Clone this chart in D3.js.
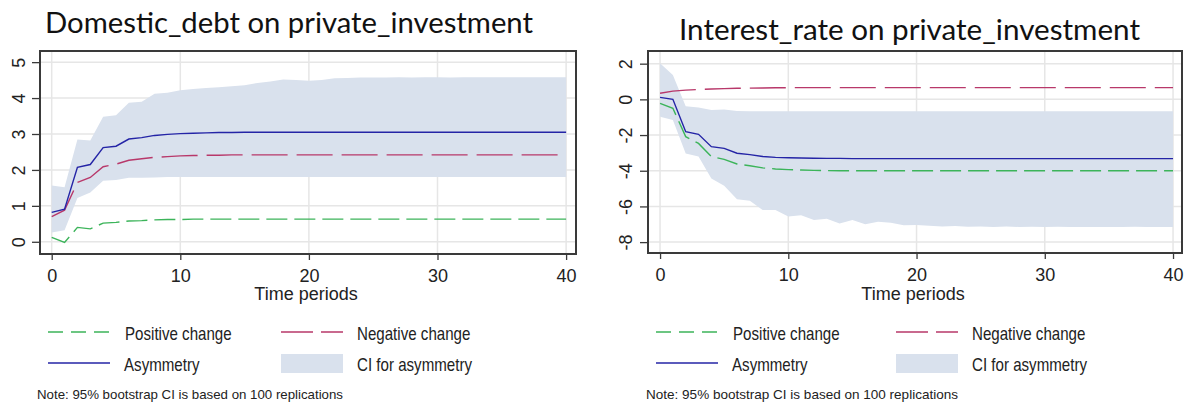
<!DOCTYPE html>
<html>
<head>
<meta charset="utf-8">
<script src="https://cdn.jsdelivr.net/npm/d3@7"></script>
<style>
  body { margin: 0; background: #fff; }
  svg { display: block; }
  .tick-label { font-family: "Liberation Sans", Arial, sans-serif; font-size: 18px; fill: #222; }
  .legend-label { font-family: "Liberation Sans", Arial, sans-serif; font-size: 18px; fill: #222; }
  .note { font-family: "Liberation Sans", Arial, sans-serif; font-size: 13px; fill: #222; }
  .title { font-family: Lato, "Open Sans", sans-serif; font-size: 28px; fill: #111; }
</style>
</head>
<body>
<svg id="chart" width="1184" height="403"></svg>
<script>
// time periods 0..40
var periods = d3.range(0, 41);

// Domestic_debt on private_investment
var ddAsym = [0.82, 0.91, 2.07, 2.15, 2.62, 2.66, 2.86, 2.90, 2.96, 2.99, 3.01, 3.02, 3.03, 3.04, 3.04, 3.05, 3.05,
  3.05, 3.05, 3.05, 3.05, 3.05, 3.05, 3.05, 3.05, 3.05, 3.05, 3.05, 3.05, 3.05, 3.05, 3.05, 3.05, 3.05, 3.05, 3.05,
  3.05, 3.05, 3.05, 3.05, 3.05];
var ddNeg = [0.70, 0.88, 1.65, 1.79, 2.09, 2.16, 2.27, 2.31, 2.35, 2.37, 2.39, 2.40, 2.41, 2.41, 2.42, 2.42, 2.42,
  2.42, 2.42, 2.42, 2.42, 2.42, 2.42, 2.42, 2.42, 2.42, 2.42, 2.42, 2.42, 2.42, 2.42, 2.42, 2.42, 2.42, 2.42, 2.42,
  2.42, 2.42, 2.42, 2.42, 2.42];
var ddPos = [0.12, -0.02, 0.40, 0.36, 0.52, 0.54, 0.58, 0.59, 0.61, 0.62, 0.62, 0.63, 0.63, 0.63, 0.63, 0.63, 0.63,
  0.63, 0.63, 0.63, 0.63, 0.63, 0.63, 0.63, 0.63, 0.63, 0.63, 0.63, 0.63, 0.63, 0.63, 0.63, 0.63, 0.63, 0.63, 0.63,
  0.63, 0.63, 0.63, 0.63, 0.63];
var ddHi = [1.57, 1.52, 2.85, 2.82, 3.48, 3.52, 3.87, 3.90, 4.12, 4.15, 4.22, 4.25, 4.28, 4.30, 4.33, 4.36, 4.42,
  4.46, 4.52, 4.50, 4.48, 4.50, 4.55, 4.56, 4.57, 4.57, 4.57, 4.58, 4.57, 4.58, 4.58, 4.57, 4.58, 4.58, 4.58, 4.58,
  4.58, 4.58, 4.58, 4.58, 4.58];
var ddLo = [0.26, 0.32, 1.22, 1.37, 1.70, 1.72, 1.78, 1.78, 1.79, 1.80, 1.80, 1.80, 1.80, 1.80, 1.80, 1.80, 1.80,
  1.80, 1.80, 1.80, 1.80, 1.80, 1.80, 1.80, 1.80, 1.80, 1.80, 1.80, 1.80, 1.80, 1.80, 1.80, 1.80, 1.80, 1.80, 1.80,
  1.80, 1.80, 1.80, 1.80, 1.80];

// Interest_rate on private_investment
var irAsym = [0.11, 0.00, -1.81, -1.96, -2.65, -2.75, -3.02, -3.10, -3.20, -3.25, -3.27, -3.29, -3.30, -3.31, -3.31,
  -3.32, -3.32, -3.32, -3.32, -3.32, -3.32, -3.32, -3.32, -3.32, -3.32, -3.32, -3.32, -3.32, -3.32, -3.32, -3.32,
  -3.32, -3.32, -3.32, -3.32, -3.32, -3.32, -3.32, -3.32, -3.32, -3.32];
var irNeg = [0.34, 0.46, 0.52, 0.55, 0.58, 0.60, 0.62, 0.63, 0.64, 0.65, 0.65, 0.66, 0.66, 0.66, 0.66, 0.66, 0.66,
  0.66, 0.66, 0.66, 0.66, 0.66, 0.66, 0.66, 0.66, 0.66, 0.66, 0.66, 0.66, 0.66, 0.66, 0.66, 0.66, 0.66, 0.66, 0.66,
  0.66, 0.66, 0.66, 0.66, 0.66];
var irPos = [-0.22, -0.50, -2.09, -2.47, -3.21, -3.36, -3.62, -3.72, -3.84, -3.90, -3.94, -3.96, -3.98, -3.99, -4.00,
  -4.00, -4.00, -4.00, -4.00, -4.00, -4.00, -4.00, -4.00, -4.00, -4.00, -4.00, -4.00, -4.00, -4.00, -4.00, -4.00,
  -4.00, -4.00, -4.00, -4.00, -4.00, -4.00, -4.00, -4.00, -4.00, -4.00];
var irHi = [2.02, 1.36, -0.38, -0.45, -0.60, -0.57, -0.65, -0.66, -0.67, -0.67, -0.67, -0.67, -0.67, -0.67, -0.67,
  -0.67, -0.67, -0.67, -0.67, -0.67, -0.67, -0.67, -0.67, -0.67, -0.67, -0.67, -0.67, -0.67, -0.67, -0.67, -0.67,
  -0.67, -0.67, -0.67, -0.67, -0.67, -0.67, -0.67, -0.67, -0.67, -0.67];
var irLo = [-0.97, -1.16, -3.03, -3.20, -4.43, -4.84, -5.60, -5.68, -6.20, -6.20, -6.57, -6.50, -6.76, -6.69, -6.95,
  -6.76, -7.00, -6.86, -6.92, -7.06, -7.04, -7.08, -7.12, -7.10, -7.14, -7.12, -7.15, -7.13, -7.15, -7.14, -7.15,
  -7.14, -7.15, -7.15, -7.15, -7.15, -7.15, -7.14, -7.15, -7.15, -7.15];

var xTicks = [0, 10, 20, 30, 40];
var ddTicks = [0, 1, 2, 3, 4, 5];
var irTicks = [2, 0, -2, -4, -6, -8];

var legendLabels = ["Positive change", "Negative change", "Asymmetry", "CI for asymmetry"];
var noteText = "Note: 95% bootstrap CI is based on 100 replications";

var colors = { pos: "#3cb45a", neg: "#b8386a", asym: "#2424a6", ci: "#d9e1ed" };

var svg = d3.select("#chart");

function fitText(sel, w) {
  sel.attr("textLength", w).attr("lengthAdjust", "spacingAndGlyphs");
}

// plain hyphen for negatives, as in the original
function plainNum(d) { return String(d); }

function drawPanel(cfg) {
  var g = svg.append("g");

  var x = d3.scaleLinear().domain(cfg.xDomain).range([cfg.frame[0], cfg.frame[1]]);
  var y = d3.scaleLinear().domain(cfg.yDomain).range([cfg.frame[3], cfg.frame[2]]);

  // title
  g.append("text").attr("class", "title")
    .attr("x", cfg.titleX).attr("y", cfg.titleY)
    .text(cfg.title)
    .call(fitText, cfg.titleW);

  // gridlines
  g.selectAll(".hgrid").data(cfg.yTicks).enter().append("line")
    .attr("x1", cfg.frame[0]).attr("x2", cfg.frame[1])
    .attr("y1", function (d) { return y(d); }).attr("y2", function (d) { return y(d); })
    .attr("stroke", "#e6e6e6").attr("stroke-width", 1.5);
  g.selectAll(".vgrid").data(xTicks).enter().append("line")
    .attr("x1", function (d) { return x(d); }).attr("x2", function (d) { return x(d); })
    .attr("y1", cfg.frame[2]).attr("y2", cfg.frame[3])
    .attr("stroke", "#e6e6e6").attr("stroke-width", 1.5);

  var rows = periods.map(function (p, i) {
    return { t: p, asym: cfg.asym[i], neg: cfg.neg[i], pos: cfg.pos[i], hi: cfg.hi[i], lo: cfg.lo[i] };
  });

  var area = d3.area()
    .x(function (d) { return x(d.t); })
    .y0(function (d) { return y(d.lo); })
    .y1(function (d) { return y(d.hi); });

  g.append("path").datum(rows).attr("d", area).attr("fill", colors.ci);

  function line(key) {
    return d3.line().x(function (d) { return x(d.t); }).y(function (d) { return y(d[key]); });
  }

  g.append("path").datum(rows).attr("d", line("pos"))
    .attr("fill", "none").attr("stroke", colors.pos).attr("stroke-width", 1.4)
    .attr("stroke-dasharray", "21,7");
  g.append("path").datum(rows).attr("d", line("neg"))
    .attr("fill", "none").attr("stroke", colors.neg).attr("stroke-width", 1.4)
    .attr("stroke-dasharray", "36,9");
  g.append("path").datum(rows).attr("d", line("asym"))
    .attr("fill", "none").attr("stroke", colors.asym).attr("stroke-width", 1.4);

  // frame
  g.append("rect")
    .attr("x", cfg.frame[0]).attr("y", cfg.frame[2])
    .attr("width", cfg.frame[1] - cfg.frame[0]).attr("height", cfg.frame[3] - cfg.frame[2])
    .attr("fill", "none").attr("stroke", "#3a3a3a").attr("stroke-width", 2);

  // axes
  var xAxis = d3.axisBottom(x).tickValues(xTicks).tickFormat(plainNum).tickSize(6).tickPadding(9);
  var xg = g.append("g").attr("transform", "translate(0," + cfg.frame[3] + ")").call(xAxis);
  xg.select(".domain").remove();
  xg.selectAll(".tick line").attr("stroke", "#3a3a3a").attr("stroke-width", 1.3);
  xg.selectAll(".tick text").attr("class", "tick-label").attr("font-size", null).attr("font-family", null);

  var yAxis = d3.axisLeft(y).tickValues(cfg.yTicks).tickFormat(plainNum).tickSize(8).tickPadding(0);
  var yg = g.append("g").attr("transform", "translate(" + cfg.frame[0] + ",0)").call(yAxis);
  yg.select(".domain").remove();
  yg.selectAll(".tick line").attr("stroke", "#3a3a3a").attr("stroke-width", 1.3);
  yg.selectAll(".tick text")
    .attr("class", "tick-label").attr("font-size", null).attr("font-family", null)
    .attr("x", null).attr("dy", null)
    .attr("text-anchor", "middle")
    .attr("transform", "translate(" + (cfg.yLabelX - cfg.frame[0]) + ",0) rotate(-90)");

  g.append("text").attr("class", "tick-label")
    .attr("x", (cfg.frame[0] + cfg.frame[1]) / 2 - 2).attr("y", 300)
    .attr("text-anchor", "middle")
    .text("Time periods");

  // legend
  var lg = g.append("g");
  var c1 = cfg.legend[0], c2 = cfg.legend[1];
  lg.append("line").attr("x1", c1).attr("x2", c1 + 62).attr("y1", 332).attr("y2", 332)
    .attr("stroke", colors.pos).attr("stroke-width", 1.4).attr("stroke-dasharray", "15,8");
  lg.append("line").attr("x1", c2).attr("x2", c2 + 62).attr("y1", 332).attr("y2", 332)
    .attr("stroke", colors.neg).attr("stroke-width", 1.4).attr("stroke-dasharray", "32,8");
  lg.append("line").attr("x1", c1).attr("x2", c1 + 62).attr("y1", 363).attr("y2", 363)
    .attr("stroke", colors.asym).attr("stroke-width", 1.4);
  lg.append("rect").attr("x", c2).attr("y", 354).attr("width", 62).attr("height", 19)
    .attr("fill", colors.ci);

  var labelPos = [[c1 + 77, 340], [c2 + 76, 340], [c1 + 76, 371], [c2 + 76, 371]];
  legendLabels.forEach(function (t, i) {
    lg.append("text").attr("class", "legend-label")
      .attr("transform", "translate(" + labelPos[i][0] + "," + labelPos[i][1] + ") scale(0.84,1)")
      .text(t);
  });

  g.append("text").attr("class", "note")
    .attr("x", cfg.noteX).attr("y", 399)
    .text(noteText)
    .call(fitText, cfg.noteW);
}

drawPanel({
  title: "Domestic_debt on private_investment",
  titleX: 45, titleY: 33, titleW: 488,
  frame: [40, 576, 51, 254],
  xDomain: [-0.91, 40.77],
  yDomain: [-0.34, 5.31],
  yTicks: ddTicks,
  yLabelX: 25,
  asym: ddAsym, neg: ddNeg, pos: ddPos, hi: ddHi, lo: ddLo,
  legend: [48, 281],
  noteX: 37, noteW: 306
});

drawPanel({
  title: "Interest_rate on private_investment",
  titleX: 679, titleY: 40, titleW: 461,
  frame: [648, 1182, 51, 253],
  xDomain: [-0.94, 40.7],
  yDomain: [-8.61, 2.71],
  yTicks: irTicks,
  yLabelX: 632,
  asym: irAsym, neg: irNeg, pos: irPos, hi: irHi, lo: irLo,
  legend: [656, 896],
  noteX: 646, noteW: 312
});
</script>
</body>
</html>
